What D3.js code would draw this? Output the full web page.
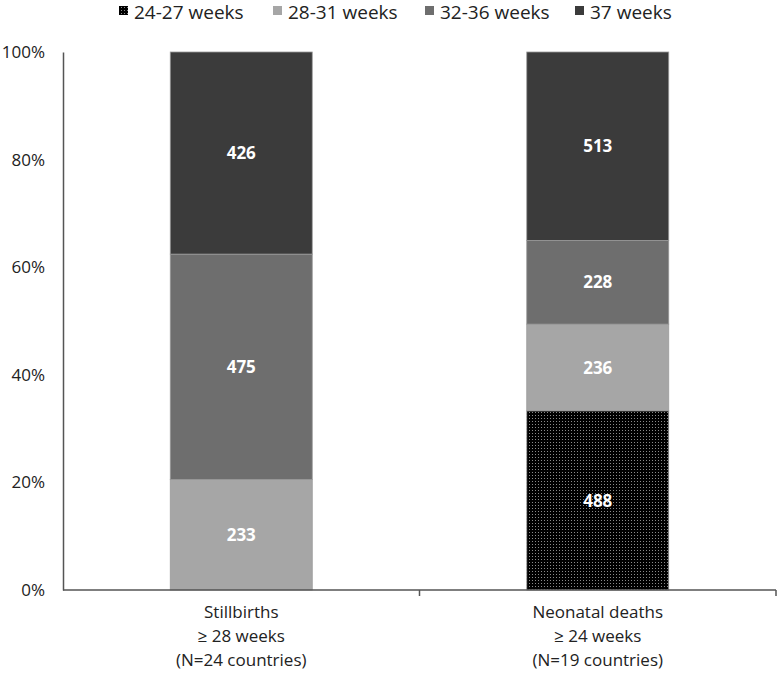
<!DOCTYPE html>
<html><head><meta charset="utf-8">
<script src="https://cdn.jsdelivr.net/npm/d3@7"></script>
<style>body{margin:0;background:#fff;} svg{display:block;font-family:"Open Sans","Liberation Sans",sans-serif;}</style>
</head><body>
<svg id="chart" width="780" height="673"></svg>
<script>
const categories = ["Stillbirths|≥ 28 weeks|(N=24 countries)", "Neonatal deaths|≥ 24 weeks|(N=19 countries)"];
const seriesNames = ["24-27 weeks", "28-31 weeks", "32-36 weeks", "37 weeks"];
const v2427 = [0, 488];
const v2831 = [233, 236];
const v3236 = [475, 228];
const v37 = [426, 513];
const yTicks = [0, 0.2, 0.4, 0.6, 0.8, 1.0];
const colors = ["url(#dots)", "#a6a6a6", "#6e6e6e", "#3b3b3b"];

const svg = d3.select("#chart");
const defs = svg.append("defs");
const pat = defs.append("pattern").attr("id","dots").attr("patternUnits","userSpaceOnUse").attr("width",3).attr("height",3);
pat.append("rect").attr("width",3).attr("height",3).attr("fill","#000");
pat.append("rect").attr("x",1).attr("y",1).attr("width",1).attr("height",1).attr("fill","#8a8a8a");

const margin = {left:63, right:4, top:52, bottom:83};
const W = 780, H = 673;
const x = d3.scaleBand().domain(categories).range([margin.left, W - margin.right]).paddingInner(0).paddingOuter(0);
const y = d3.scaleLinear().domain([0,1]).range([H - margin.bottom, margin.top]);

const rows = categories.map((c,i)=>({cat:c, "24-27 weeks":v2427[i], "28-31 weeks":v2831[i], "32-36 weeks":v3236[i], "37 weeks":v37[i]}));
const stack = d3.stack().keys(seriesNames).offset(d3.stackOffsetExpand);
const layers = stack(rows);

const barW = 142;
layers.forEach((layer, li) => {
  const g = svg.append("g");
  layer.forEach((d, i) => {
    const val = rows[i][seriesNames[li]];
    if (!val) return;
    const cx = x(rows[i].cat) + x.bandwidth()/2;
    g.append("rect").attr("x", cx - barW/2).attr("y", y(d[1])).attr("width", barW).attr("height", y(d[0]) - y(d[1]))
      .attr("fill", colors[li]).attr("stroke", "#9a9a9a").attr("stroke-width", 0.8);
    g.append("text").attr("x", cx).attr("y", (y(d[0]) + y(d[1]))/2).attr("dy","0.36em")
      .attr("text-anchor","middle").attr("fill","#fff").attr("font-weight","bold").attr("font-size",17).text(val);
  });
});

// y axis
const yAxis = d3.axisLeft(y).tickValues(yTicks).tickFormat(d3.format(".0%")).tickSize(0).tickPadding(18);
const yg = svg.append("g").attr("transform",`translate(${margin.left},0)`).call(yAxis);
yg.select(".domain").attr("stroke","#555").attr("stroke-width",1.5);
yg.selectAll("text").attr("font-size",17).attr("fill","#222").attr("font-family","'Open Sans',sans-serif");

// x axis
const xg = svg.append("g").attr("transform",`translate(0,${H - margin.bottom})`);
xg.append("line").attr("x1", margin.left).attr("x2", W - margin.right).attr("stroke","#555").attr("stroke-width",1.5);
const bounds = [x(categories[0]) + x.bandwidth(), x(categories[1]) + x.bandwidth()];
bounds.forEach(b => xg.append("line").attr("x1",b).attr("x2",b).attr("y1",0).attr("y2",6).attr("stroke","#555").attr("stroke-width",1.5));
categories.forEach(c => {
  const t = xg.append("text").attr("text-anchor","middle").attr("font-size",17).attr("fill","#222");
  c.split("|").forEach((line, k) => {
    t.append("tspan").attr("x", x(c) + x.bandwidth()/2).attr("y", 28 + k*24).text(line);
  });
});

// legend
const legX = [119, 273, 425, 575];
const lg = svg.append("g");
seriesNames.forEach((s, i) => {
  lg.append("rect").attr("x", legX[i]).attr("y", 6).attr("width", 9).attr("height", 9).attr("fill", colors[i]);
  lg.append("text").attr("x", legX[i] + 15).attr("y", 19).attr("font-size", 19).attr("fill","#222").text(s);
});
</script>
</body></html>
